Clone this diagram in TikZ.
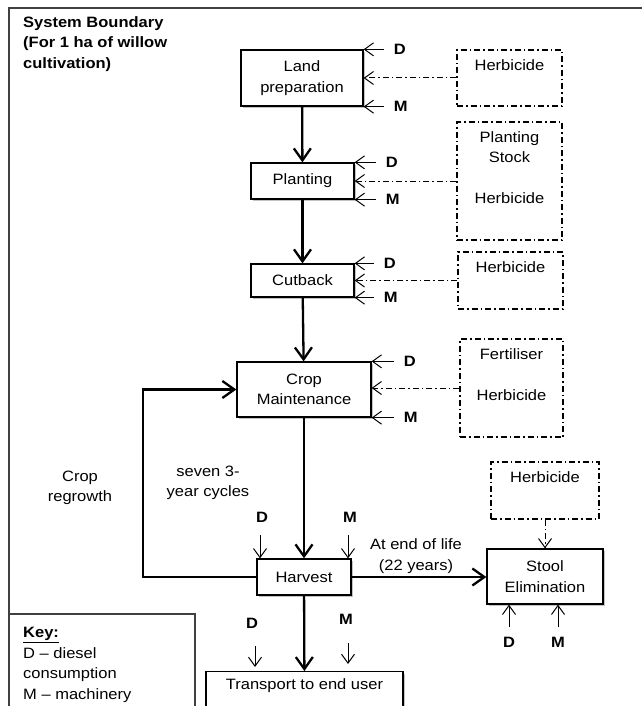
\documentclass[tikz,border=0pt]{standalone}
\usepackage{fontspec}
\setmainfont{Liberation Sans}[FakeStretch=1.1]
\usepackage{tikz}
\usetikzlibrary{arrows.meta,positioning,calc,shadows}
\definecolor{FrameGrey}{HTML}{404040}
\definecolor{ShadeGrey}{HTML}{9A9A9A}
\newcommand{\diagfont}{\fontsize{15}{20.5}\selectfont}
\tikzset{
  flow/.style={-{Straight Barb[length=12pt,width=17pt]}, line width=2.3pt},
  feed/.style={-{Straight Barb[length=9pt,width=13pt]}, line width=1pt},
  chem/.style={feed, dash pattern=on 6pt off 3pt on 1.5pt off 3pt},
  stagebox/.style={draw, line width=1.3pt, fill=white, align=center, inner sep=2pt,
                   drop shadow={shadow xshift=2pt, shadow yshift=-2pt, fill=ShadeGrey, opacity=0.6}},
  inputbox/.style={draw, line width=1.1pt, dash pattern=on 6pt off 3pt on 1.5pt off 3pt,
                   align=center, inner sep=2pt},
  lab/.style={font=\diagfont\bfseries, inner sep=1pt},
  note/.style={align=center, inner sep=1pt},
  frame/.style={draw=FrameGrey, line width=1.5pt},
}
\begin{document}
\begin{tikzpicture}[x=1pt,y=-1pt,font=\diagfont]
    \useasboundingbox (0,0) rectangle (641,706);
    % system boundary and key
    \draw[frame] (9,8) rectangle (720,760);
    \node[lab,align=left,anchor=north west] (sysb) at (22,15) {System Boundary\\(For 1 ha of willow\\cultivation)};
    \draw[frame] (9,614) rectangle (195,730);
    \node[align=left,anchor=north west,inner sep=1pt] (key) at (22,626) {\textbf{\underline{Key:}}\\D -- diesel\\consumption\\M -- machinery};
    % stages
    \node[stagebox,minimum width=122pt,minimum height=56pt] (land) at (302,78) {Land\\preparation};
    \node[stagebox,minimum width=103pt,minimum height=36pt] (plant) at (302.5,181) {Planting};
    \node[stagebox,minimum width=103pt,minimum height=33pt] (cut) at (302.5,280.5) {Cutback};
    \node[stagebox,minimum width=134pt,minimum height=55pt] (maint) at (304,389.5) {Crop\\Maintenance};
    \node[stagebox,minimum width=94pt,minimum height=36pt] (harv) at (304,577) {Harvest};
    \node[stagebox,minimum width=197pt,minimum height=52pt,anchor=north] (trans) at (304.5,671) {Transport to end user\\\strut};
    \node[stagebox,minimum width=116pt,minimum height=55pt] (stool) at (545,576.5) {Stool\\Elimination};
    % inputs
    \node[inputbox,minimum width=105pt,minimum height=56pt] (herbA) at (509.5,78) {Herbicide\\\strut};
    \node[inputbox,minimum width=105pt,minimum height=118pt] (herbB) at (509.5,181) {Planting\\Stock\\\strut\\Herbicide\\\strut};
    \node[inputbox,minimum width=105pt,minimum height=57pt] (herbC) at (510.5,280.5) {Herbicide\\\strut};
    \node[inputbox,minimum width=103pt,minimum height=98pt] (herbD) at (511.5,388) {Fertiliser\\\strut\\Herbicide\\\strut};
    \node[inputbox,minimum width=108pt,minimum height=57pt] (herbE) at (545,490.5) {Herbicide\\\strut};
    % main chain
    \draw[flow] (land) -- (plant);
    \draw[flow] (plant) -- (cut);
    \draw[flow] (cut) -- (maint);
    \draw[flow] (maint) -- (harv);
    \draw[flow] (harv) -- (trans);
    \draw[flow] (harv.east) -- (harv.east -| stool.west);
    \coordinate (loop) at (143,577);
    \draw[flow] (harv.west) -- (loop) |- (maint.west);
    % chemical inputs
    \draw[chem] (herbA.west) -- (herbA.west -| land.east);
    \draw[chem] (herbB.west) -- (herbB.west -| plant.east);
    \draw[chem] (herbC.west) -- (herbC.west -| cut.east);
    \draw[chem] (herbD.west) -- (herbD.west -| maint.east);
    \draw[chem] (herbE.south) -- (stool.north);
    % diesel and machinery
    \foreach \s/\l in {land/20,plant/21,cut/19,maint/22}{
      \coordinate[right=\l pt of \s.north east] (\s D);
      \coordinate[right=\l pt of \s.south east] (\s M);
      \draw[feed] (\s D) -- (\s.north east);
      \draw[feed] (\s M) -- (\s.south east);
      \node[lab,right=9pt of \s D] {D};
      \node[lab,right=9pt of \s M] {M};
    }
    \node[lab] (harvDl) at (262,517) {D};
    \node[lab] (harvMl) at (350,517) {M};
    \coordinate (harvD) at (260,535);
    \coordinate (harvM) at (348,535);
    \draw[feed] (harvD) -- (harvD |- harv.north);
    \draw[feed] (harvM) -- (harvM |- harv.north);
    \node[lab] (transDl) at (252,623) {D};
    \node[lab] (transMl) at (346,619) {M};
    \coordinate (transD) at (255,646);
    \coordinate (transM) at (348,643);
    \draw[feed] (transD) -- ($(transD |- trans.north)+(0,-4)$);
    \draw[feed] (transM) -- ($(transM |- trans.north)+(0,-7)$);
    \node[lab] (stoolDl) at (509,642) {D};
    \node[lab] (stoolMl) at (558,642) {M};
    \coordinate (stoolD) at (509,627);
    \coordinate (stoolM) at (558,627);
    \draw[feed] (stoolD) -- (stoolD |- stool.south);
    \draw[feed] (stoolM) -- (stoolM |- stool.south);
    % notes
    \node[note] (regrow) at (80,488) {Crop\\regrowth};
    \node[note] (cycles) at (208,483) {seven 3-\\year cycles};
    \node[note] (eol) at (416,556) {At end of life\\(22 years)};
  \end{tikzpicture}
\end{document}
